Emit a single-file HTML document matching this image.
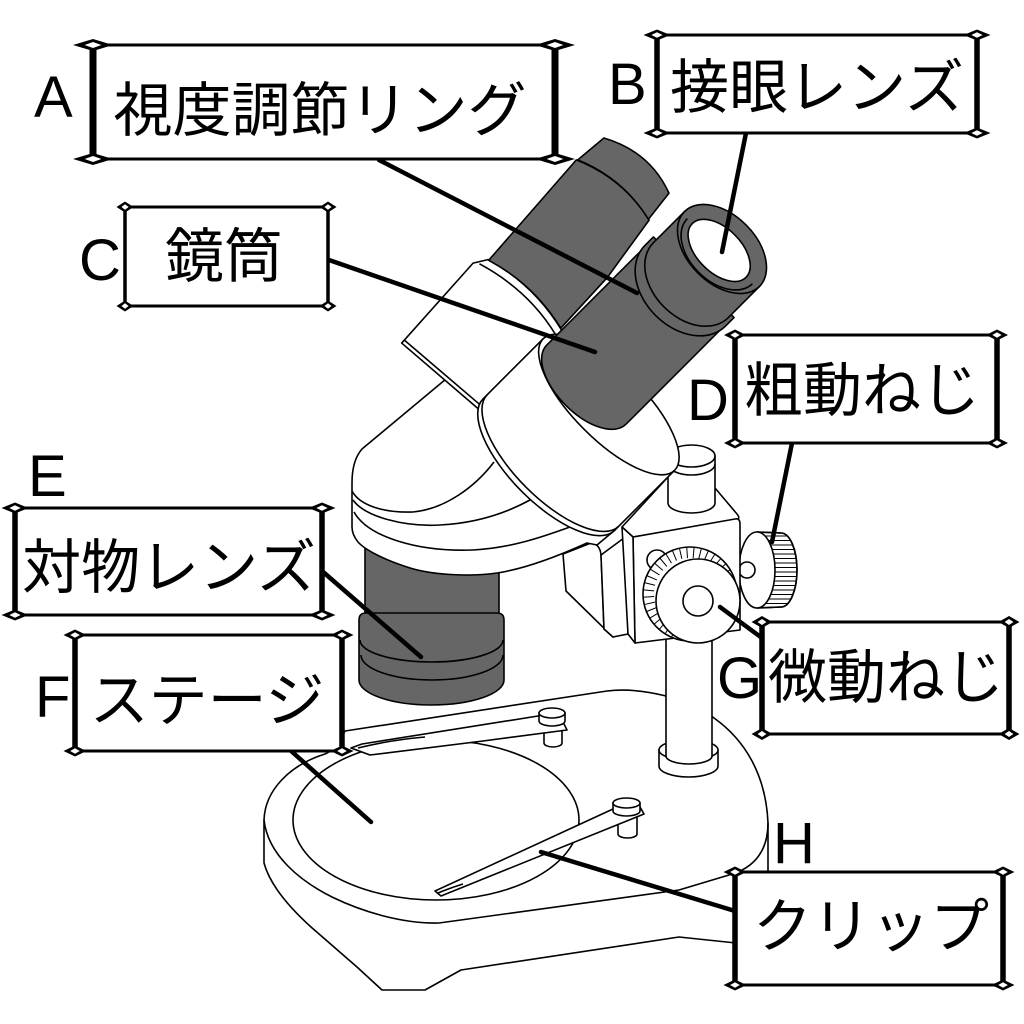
<!DOCTYPE html>
<html><head><meta charset="utf-8"><style>
html,body{margin:0;padding:0;background:#fff}
svg{display:block}
.jp{font-family:"Liberation Sans","Noto Sans CJK JP",sans-serif;font-size:59px;fill:#000}
.lt{font-family:"Liberation Sans","Noto Sans CJK JP",sans-serif;font-size:58px;fill:#000}
</style></head><body>
<svg width="1024" height="1024" viewBox="0 0 1024 1024" xmlns="http://www.w3.org/2000/svg">
<defs>
<g id="dm"><polygon points="-1,0 0,-1 1,0 0,1" fill="#000"/><polygon points="-0.42,0 0,-0.5 0.42,0 0,0.5" fill="#fff"/></g>
<clipPath id="dk"><path d="M757,532 L781,533 A16,37 0 0 1 781,607 L757,608 Z"/></clipPath>
</defs>
<rect width="1024" height="1024" fill="#fff"/>

<g fill="#fff" stroke="#000" stroke-width="1.6" stroke-linejoin="round">
<!-- base -->
<path d="M264,820 C265,790 290,765 325,754 C335,750 340,740 345,731 L607,691 C640,687 690,698 714,718 C745,740 766,775 768,823 L768,945 L736,943 L679,937 L461,970 L425,990 L382,990 L357,967 L311,927 C290,908 270,885 264,863 Z"/>
<path fill="none" d="M768,823 C768,850 755,868 729,875 L679,890 L439,923 C405,924 365,913 332,897 C300,881 268,855 264,820"/>
<ellipse cx="436" cy="820" rx="143" ry="80" fill="none"/>

<!-- back clip -->
<path d="M544,727 L544,743 A9,4 0 0 0 562,743 L562,727 Z"/>
<path d="M351,748 L362,744 L538,716 L563,722 L567,730 L483,741 L370,755 Z"/>
<path fill="none" d="M358,748 Q390,740 425,737"/>
<path d="M539,713 L539,721 A13,5 0 0 0 565,721 L565,713 Z"/>
<ellipse cx="552" cy="713" rx="13" ry="5"/>

<!-- pillar -->
<path d="M659,750 L659,766 A29.5,11 0 0 0 718,766 L718,750 Z"/>
<ellipse cx="688.5" cy="750" rx="29.5" ry="10"/>
<path d="M666,600 L666,756 A23,8 0 0 0 712,756 L712,600 Z"/>

<!-- front clip -->
<path d="M618,813 L618,834 A9.5,4 0 0 0 637,834 L637,813 Z"/>
<path d="M435,891 L613,809 L640,807 L644,814 L441,896 Z"/>
<path fill="none" d="M438,893 Q450,888 463,884"/>
<path d="M613,803 L613,811 A13.5,5 0 0 0 640,811 L640,803 Z"/>
<ellipse cx="626.5" cy="803" rx="13.5" ry="5"/>

<!-- objective -->
<rect x="365" y="548" width="134" height="75" fill="#666"/>
<path fill="#666" d="M359,620 Q359,613 366,613 L497,613 Q504,613 504,620 L504,680 A72.5,25 0 0 1 359,680 Z"/>
<path fill="none" d="M360,640 A71.5,22 0 0 0 503,640 M361,655 A71,25 0 0 0 503,655"/>

<!-- rack -->
<path d="M563,554 L591,543 Q600,544 601,555 L604,629 L613,637 L566,591 Z"/>
<path d="M601,555 L628,535 L628,634 L613,637 L604,629 Z"/>

<!-- coarse knob D -->
<path d="M757,532 L781,533 A16,37 0 0 1 781,607 L757,608 Z"/>
<g clip-path="url(#dk)" stroke-width="1">
<path fill="none" d="M757,536H800M757,540.5H800M757,545H800M757,549.5H800M757,554H800M757,558.5H800M757,563H800M757,567.5H800M757,572H800M757,576.5H800M757,581H800M757,585.5H800M757,590H800M757,594.5H800M757,599H800M757,603.5H800"/>
</g>
<path fill="none" d="M757,532 L781,533 A16,37 0 0 1 781,607 L757,608"/>
<ellipse cx="757" cy="570" rx="18" ry="38"/>
<circle cx="747" cy="570" r="8"/>

<!-- focus block -->
<path d="M622,527 L668,477 L715,488 L737,514 Q741,519 736,520 L633,537 Z"/>
<path d="M633,537 L735,519 Q740,518 740,524 L740,630 L635,643 Z"/>
<path d="M622,527 L633,537 L635,643 L628,634 Z"/>
<circle cx="657" cy="560" r="10"/>
<path d="M668,456 L668,503 A23.5,10 0 0 0 715,503 L715,456 Z"/>
<path fill="none" d="M668,464 A23.5,11 0 0 0 715,464"/>
<ellipse cx="691.5" cy="456" rx="23.5" ry="11"/>

<!-- fine knob G -->
<circle cx="690" cy="594" r="47"/>
<g transform="translate(690,594)" stroke-width="1">
<line x1="36" x2="47" transform="rotate(95)"/><line x1="36" x2="47" transform="rotate(104)"/><line x1="36" x2="47" transform="rotate(113)"/><line x1="36" x2="47" transform="rotate(122)"/><line x1="36" x2="47" transform="rotate(131)"/><line x1="36" x2="47" transform="rotate(140)"/><line x1="36" x2="47" transform="rotate(149)"/><line x1="36" x2="47" transform="rotate(158)"/><line x1="36" x2="47" transform="rotate(167)"/><line x1="36" x2="47" transform="rotate(176)"/><line x1="36" x2="47" transform="rotate(185)"/><line x1="36" x2="47" transform="rotate(194)"/><line x1="36" x2="47" transform="rotate(203)"/><line x1="36" x2="47" transform="rotate(212)"/><line x1="36" x2="47" transform="rotate(221)"/><line x1="36" x2="47" transform="rotate(230)"/><line x1="36" x2="47" transform="rotate(239)"/><line x1="36" x2="47" transform="rotate(248)"/><line x1="36" x2="47" transform="rotate(257)"/><line x1="36" x2="47" transform="rotate(266)"/><line x1="36" x2="47" transform="rotate(275)"/><line x1="36" x2="47" transform="rotate(284)"/><line x1="36" x2="47" transform="rotate(293)"/><line x1="36" x2="47" transform="rotate(302)"/><line x1="36" x2="47" transform="rotate(311)"/><line x1="36" x2="47" transform="rotate(320)"/><line x1="36" x2="47" transform="rotate(329)"/><line x1="36" x2="47" transform="rotate(338)"/><line x1="36" x2="47" transform="rotate(347)"/>
</g>
<circle cx="698" cy="601" r="42"/>
<circle cx="698" cy="601" r="15"/>

<!-- head -->
<path d="M352,527 L352,483 C352,468 355,457 362,449 L446,379 L470,372 L560,470 L615,530 L597,545 L587,543 C565,553 530,568 497,573 C470,577 430,575 407,567 C385,560 365,550 358,542 C354,537 352,532 352,527 Z"/>
<path fill="none" d="M352,491 C360,506 385,513 413,512 C445,509 475,487 494,462 M353,500 C365,517 405,527 440,525 C478,523 508,512 530,500 M354,512 C368,537 418,552 473,550 C512,548 545,536 570,527"/>

<!-- binocular assembly in rotated frame -->
<g transform="translate(722,249) rotate(45)">
<path d="M-166,186 L-158,173 Q-108,158 -55,171 L-55,285 L-160,293 Z"/>
<path fill="none" d="M-161,182 Q-108,166 -58,178 M-160,289 L-58,281"/>
<path fill="#666" d="M-166,40 L-157,173 Q-108,158 -58,170 L-61,101 L-72,31 Q-120,20 -166,40 Z"/>
<path fill="#666" d="M-162,5 Q-120,-18 -77,-2 L-73,31 Q-120,20 -165,39 Z"/>
<path d="M-63,190 L-63,275 A93,38 0 0 0 123,275 L123,190 A93,35 0 0 0 -63,190 Z"/>
<path fill="none" d="M-63,269 A93,38 0 0 0 123,269 M-63,190 A93,35 0 0 0 123,190"/>
<path fill="#666" d="M-56,55 L-56,192 A56,29 0 0 0 56,192 L56,55 Z"/>
<path fill="#666" d="M-57,40 L-57,52 A57,42 0 0 0 57,52 L57,40 Z"/>
<path fill="#666" d="M-53,0 L-53,44 A53,38 0 0 0 53,44 L53,0 Z"/>
<ellipse cx="0" cy="0" rx="53" ry="34" fill="#666"/>
<path fill="none" d="M-46,3 A46,30 0 0 0 46,3"/>
<ellipse cx="-1" cy="3" rx="38" ry="22" fill="#fff"/>
</g>
</g>

<!-- leader lines -->
<g stroke="#000" stroke-width="4.5" stroke-linecap="round" fill="none">
<path d="M379,160 L637,293"/>
<path d="M746,133 L722,252"/>
<path d="M329,260 L595,352"/>
<path d="M792,443 L772,542"/>
<path d="M322,571 L421,657"/>
<path d="M290,750 L371,822"/>
<path d="M720,607 L762,638"/>
<path d="M541,852 L735,911"/>
</g>

<!-- label boxes -->
<g fill="#fff" stroke="none">
<rect x="93" y="45" width="462" height="114"/>
<rect x="657" y="35" width="320" height="98"/>
<rect x="125" y="207" width="203" height="99"/>
<rect x="735" y="335" width="262" height="108"/>
<rect x="15" y="508" width="307" height="107"/>
<rect x="75" y="635" width="267" height="116"/>
<rect x="762" y="622" width="247" height="112"/>
<rect x="735" y="872" width="268" height="113"/>
</g>
<g stroke="#000" stroke-width="3" fill="none">
<path d="M93,45H555M93,159H555"/>
<path d="M657,35H977M657,133H977"/>
<path d="M125,207H328M125,306H328"/>
<path d="M735,335H997M735,443H997"/>
<path d="M15,508H322M15,615H322"/>
<path d="M75,635H342M75,751H342"/>
<path d="M762,622H1009M762,734H1009"/>
<path d="M735,872H1003M735,985H1003"/>
</g>
<g stroke="#000" stroke-width="5.5" fill="none">
<path d="M93,45V159M555,45V159" stroke-width="7"/>
<path d="M657,35V133M977,35V133"/>
<path d="M125,207V306M328,207V306" stroke-width="3.5"/>
<path d="M735,335V443M997,335V443"/>
<path d="M15,508V615M322,508V615"/>
<path d="M75,635V751M342,635V751"/>
<path d="M762,622V734M1009,622V734"/>
<path d="M735,872V985M1003,872V985"/>
</g>
<!-- diamonds -->
<use href="#dm" transform="translate(93,45) scale(20,6)"/><use href="#dm" transform="translate(555,45) scale(20,6)"/><use href="#dm" transform="translate(93,159) scale(20,6)"/><use href="#dm" transform="translate(555,159) scale(20,6)"/>
<use href="#dm" transform="translate(657,35) scale(13.5,5.5)"/><use href="#dm" transform="translate(977,35) scale(13.5,5.5)"/><use href="#dm" transform="translate(657,133) scale(13.5,5.5)"/><use href="#dm" transform="translate(977,133) scale(13.5,5.5)"/>
<use href="#dm" transform="translate(125,207) scale(8.5,5.5)"/><use href="#dm" transform="translate(328,207) scale(8.5,5.5)"/><use href="#dm" transform="translate(125,306) scale(8.5,5.5)"/><use href="#dm" transform="translate(328,306) scale(8.5,5.5)"/>
<use href="#dm" transform="translate(735,335) scale(11,5.5)"/><use href="#dm" transform="translate(997,335) scale(11,5.5)"/><use href="#dm" transform="translate(735,443) scale(11,5.5)"/><use href="#dm" transform="translate(997,443) scale(11,5.5)"/>
<use href="#dm" transform="translate(15,508) scale(13.5,5.5)"/><use href="#dm" transform="translate(322,508) scale(13.5,5.5)"/><use href="#dm" transform="translate(15,615) scale(13.5,5.5)"/><use href="#dm" transform="translate(322,615) scale(13.5,5.5)"/>
<use href="#dm" transform="translate(75,635) scale(11.5,5.5)"/><use href="#dm" transform="translate(342,635) scale(11.5,5.5)"/><use href="#dm" transform="translate(75,751) scale(11.5,5.5)"/><use href="#dm" transform="translate(342,751) scale(11.5,5.5)"/>
<use href="#dm" transform="translate(762,622) scale(10.5,6)"/><use href="#dm" transform="translate(1009,622) scale(10.5,6)"/><use href="#dm" transform="translate(762,734) scale(10.5,6)"/><use href="#dm" transform="translate(1009,734) scale(10.5,6)"/>
<use href="#dm" transform="translate(735,872) scale(11.5,5.5)"/><use href="#dm" transform="translate(1003,872) scale(11.5,5.5)"/><use href="#dm" transform="translate(735,985) scale(11.5,5.5)"/><use href="#dm" transform="translate(1003,985) scale(11.5,5.5)"/>

<!-- box texts -->
<g class="jp" text-anchor="middle">
<text x="320" y="131">視度調節リング</text>
<text x="817" y="108">接眼レンズ</text>
<text x="224" y="277">鏡筒</text>
<text x="862" y="411">粗動ねじ</text>
<text x="169" y="588">対物レンズ</text>
<text x="207" y="721">ステージ</text>
<text x="886" y="698">微動ねじ</text>
<text x="871" y="947">クリップ</text>
</g>
<!-- letters -->
<g class="lt">
<text x="34" y="117">A</text>
<text x="608" y="104">B</text>
<text x="79" y="280">C</text>
<text x="687" y="420">D</text>
<text x="28" y="496">E</text>
<text x="35" y="717">F</text>
<text x="717" y="698">G</text>
<text x="773" y="863">H</text>
</g>
</svg>
</body></html>
